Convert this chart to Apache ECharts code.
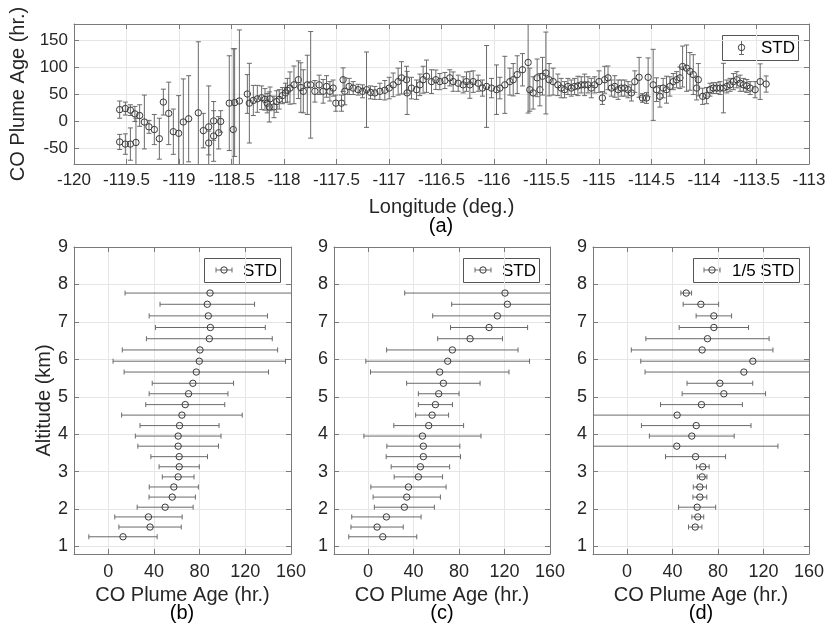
<!DOCTYPE html>
<html><head><meta charset="utf-8">
<script src="https://cdn.jsdelivr.net/npm/echarts@6/dist/echarts.min.js"></script>
<style>html,body{margin:0;padding:0;background:#fff}#c{width:830px;height:631px}</style>
</head><body><div id="c"></div>
<script>
// ---------- Panel (a): longitude vs CO plume age ----------
const lonA = [-119.565,-119.565,-119.511,-119.511,-119.463,-119.463,-119.420,-119.410,-119.375,-119.330,
-119.286,-119.235,-119.187,-119.149,-119.098,-119.054,-119.003,-118.959,-118.908,-118.816,
-118.768,-118.717,-118.717,-118.670,-118.670,-118.622,-118.603,-118.521,-118.483,-118.470,
-118.425,-118.349,-118.330,-118.292,-118.254,-118.213,-118.181,-118.160,-118.140,-118.133,
-118.095,-118.070,-118.045,-118.015,-117.985,-117.968,-117.943,-117.905,-117.863,-117.840,
-117.816,-117.778,-117.746,
-117.706,-117.665,-117.627,-117.595,-117.563,-117.532,-117.506,-117.452,-117.437,-117.421,
-117.379,-117.341,-117.294,-117.252,-117.214,-117.176,-117.135,-117.087,-117.040,-116.998,
-116.960,-116.913,-116.881,-116.833,-116.827,-116.786,-116.738,-116.706,-116.675,-116.643,
-116.595,-116.554,-116.516,-116.468,-116.421,-116.389,-116.341,-116.294,-116.262,-116.230,
-116.198,-116.151,-116.110,-116.071,-116.024,-115.976,-115.944,-115.897,-115.849,-115.817,
-115.779,-115.729,-115.675,-115.659,-115.627,-115.589,-115.563,-115.538,-115.506,-115.475,
-115.437,
-115.392,-115.360,-115.328,-115.296,-115.264,-115.232,-115.201,-115.169,-115.137,-115.105,
-115.073,-115.041,-115.000,-114.968,-114.946,-114.914,-114.882,-114.850,-114.818,-114.787,
-114.755,-114.723,-114.691,-114.659,-114.618,-114.586,-114.548,-114.532,-114.484,-114.452,
-114.420,-114.389,-114.357,-114.325,-114.293,-114.261,-114.229,-114.204,-114.166,-114.134,
-114.102,-114.070,-114.054,-114.013,-113.975,-113.943,-113.911,-113.879,-113.847,-113.815,
-113.783,-113.752,-113.720,-113.688,-113.656,-113.624,-113.592,-113.561,-113.513,-113.465,
-113.408];
const ageA = [21,-39,23,-43,20,-43,13,-40,10,-2,
-11,-16,-33,35,14,-20,-23,-2,4,15,
-18,-11,-41,0,-28,-22,-1,33,-16,34,
37,50,33,38,41,43,40,33,26,41,
26,36,40,47,52,57,61,67,76.5,62,
55,67,67,
55,67,55,64,55,61,33,33,76.5,55,
64,61,58,55,58,53,52,55,57,61,
67,73,80,76.5,52,61,58,67,76.5,83,
73,76.5,73,75,80,73,70,67,73,67,
73,70,61,64,61,58,61,67,73,76.5,
86,95,108.6,58,52,80,58,83,89,76.5,
73,
67,61,58,64,61,64,65,67,67,67,
61,67,73,42.6,76.5,80,61,64,58,61,
61,58,52,73,81,42.6,42.6,81,67,58,
45.7,61,58,64,73,76.5,80,101,98,92,
86,61,76.5,45.7,47,58,61,61,61,61,
64,67,73,76.5,70,67,65,61,58,73,
68.5];
const errA = [16,14,12,19,10,30,14,45,20,50,
12,28,38,24,58,42,70,80,80,132,
32,76,22,36,47,30,20,88,150,100,
132,36,74,28,25,22,20,18,28,22,
20,20,18,15,18,22,30,35,35,46,
40,55,99,
20,18,22,20,18,15,15,15,22,25,
15,12,10,12,70,12,12,15,18,20,
22,25,30,25,40,20,18,20,25,30,
22,18,15,15,15,18,15,15,18,25,
20,15,15,76,18,46,20,53,25,30,
35,30,94,40,30,35,30,35,76,30,
25,
20,18,15,15,15,15,18,15,20,15,
18,15,20,12,25,22,15,20,18,15,
15,15,15,20,37,8,10,36,66,22,
20,18,25,18,15,15,20,38,43,35,
37,22,30,15,15,12,10,10,12,46,
12,12,15,15,15,12,12,12,15,33,
15];
const lonTicks = [-120,-119.5,-119,-118.5,-118,-117.5,-117,-116.5,-116,-115.5,-115,-114.5,-114,-113.5,-113];
const ageTicksA = [-50,0,50,100,150];

// ---------- Panels (b),(c),(d): altitude profiles ----------
const altBC = [1.26,1.52,1.79,2.05,2.32,2.59,2.86,3.13,3.40,3.68,3.95,4.23,4.51,4.79,5.08,5.36,5.66,5.95,6.25,6.55,6.85,7.16,7.47,7.77];
const ageB = [12.9,36.6,35.2,49.8,56.0,57.4,61.2,62.1,62.1,61.2,61.2,62.4,64.5,67.4,70.3,74.1,77.1,79.7,80.3,88.5,89.4,87.6,86.7,89.1];
const errB = [29.9,27.3,29.5,24.5,20.3,21.5,13.9,17.6,24.8,35.3,37.5,34.6,52.8,34.6,34.5,35.6,63.2,75.5,68.0,55.1,48.1,51.8,41.4,74.4];
const ageC = [12.9,7.9,16.1,31.9,34.0,35.5,44.2,46.0,48.6,48.6,47.8,53.3,56.3,59.2,62.1,66.2,63.0,70.0,74.1,89.7,106.4,113.7,122.5,120.4];
const errC = [29.9,23.0,30.5,26.4,29.6,33.1,21.3,25.7,32.7,32.1,51.5,30.7,14.5,15.0,17.9,32.3,60.9,72.0,57.8,28.5,33.9,56.9,49.0,88.2];
const altD = [1.52,1.79,2.05,2.32,2.59,2.86,3.13,3.40,3.68,3.95,4.23,4.51,4.79,5.08,5.36,5.66,5.95,6.25,6.55,6.85,7.16,7.47,7.77];
const ageD = [59.9,62.2,61.6,64.0,64.0,66.0,66.6,60.2,43.7,56.9,60.8,44.0,65.4,85.1,81.6,102.7,110.6,66.0,70.7,76.3,76.3,64.9,52.0];
const errD = [5.9,5.2,16.3,6.1,5.8,4.2,5.6,26.4,89.0,37.3,48.2,160,36.0,36.7,28.9,86.9,98.6,62.3,54.2,30.5,15.6,15.6,4.7];
const altTicks = [1,2,3,4,5,6,7,8,9];
const ageTicksBCD = [0,40,80,120,160];

// ---------- styling ----------
const FONT = '"Liberation Sans", Arial, Helvetica, sans-serif';
const AX = '#7a7a7a', TXT = '#262626', GRID = '#e6e6e6';
const BAR = '#6a6a6a', CIRC = '#3a3a3a';

function zip3(a,b,c){ return a.map((v,i)=>[v,b[i],c[i]]); }

function vBar(params, api){
  const x=api.value(0), y=api.value(1), e=api.value(2);
  const c=api.coord([x,y]), t=api.coord([x,y+e]), b=api.coord([x,y-e]);
  const st={stroke:BAR, lineWidth:1, fill:null};
  return {type:'group', children:[
    {type:'line', shape:{x1:c[0],y1:t[1],x2:c[0],y2:b[1]}, style:st},
    {type:'line', shape:{x1:c[0]-2.5,y1:t[1],x2:c[0]+2.5,y2:t[1]}, style:st},
    {type:'line', shape:{x1:c[0]-2.5,y1:b[1],x2:c[0]+2.5,y2:b[1]}, style:st},
    {type:'circle', shape:{cx:c[0],cy:c[1],r:3.2}, style:{stroke:CIRC, fill:null, lineWidth:1}}
  ]};
}
function hBar(params, api){
  const x=api.value(0), y=api.value(1), e=api.value(2);
  const c=api.coord([x,y]), l=api.coord([x-e,y]), r=api.coord([x+e,y]);
  const st={stroke:BAR, lineWidth:1, fill:null};
  return {type:'group', children:[
    {type:'line', shape:{x1:l[0],y1:c[1],x2:r[0],y2:c[1]}, style:st},
    {type:'line', shape:{x1:l[0],y1:c[1]-2.5,x2:l[0],y2:c[1]+2.5}, style:st},
    {type:'line', shape:{x1:r[0],y1:c[1]-2.5,x2:r[0],y2:c[1]+2.5}, style:st},
    {type:'circle', shape:{cx:c[0],cy:c[1],r:3.2}, style:{stroke:CIRC, fill:null, lineWidth:1}}
  ]};
}

const grids = [
  {left:74, top:24, width:735, height:140},
  {left:74, top:247, width:217, height:307},
  {left:334, top:247, width:216, height:307},
  {left:593, top:247, width:216, height:307}
];

function mainAxis(extra){
  return Object.assign({
    type:'value',
    axisLine:{show:true, onZero:false, lineStyle:{color:AX, width:1}},
    axisTick:{show:true, inside:true, length:5, lineStyle:{color:AX}},
    splitLine:{show:true, lineStyle:{color:GRID, width:1}},
    nameTextStyle:{fontFamily:FONT, fontSize:20, color:TXT}
  }, extra);
}
function sideAxis(extra){
  return Object.assign({
    type:'value',
    axisLine:{show:true, onZero:false, lineStyle:{color:AX, width:1}},
    axisTick:{show:true, inside:true, length:5, lineStyle:{color:AX}},
    axisLabel:{show:false},
    splitLine:{show:false}
  }, extra);
}

const xAxes = [], yAxes = [];
// (a)
xAxes.push(mainAxis({gridIndex:0, position:'bottom', min:-120, max:-113, interval:0.5,
  axisLabel:{fontFamily:FONT, fontSize:17, color:TXT, margin:8, showMinLabel:true, showMaxLabel:true},
  name:'Longitude (deg.)', nameLocation:'middle', nameGap:33}));
xAxes.push(sideAxis({gridIndex:0, position:'top', min:-120, max:-113, interval:0.5}));
yAxes.push(mainAxis({gridIndex:0, position:'left', min:-80, max:180,
  axisTick:{show:true, inside:true, length:5, lineStyle:{color:AX}, customValues:ageTicksA},
  axisLabel:{fontFamily:FONT, fontSize:17, color:TXT, margin:6, customValues:ageTicksA},
  name:'CO Plume Age (hr.)', nameLocation:'middle', nameGap:43}));
yAxes.push(sideAxis({gridIndex:0, position:'right', min:-80, max:180,
  axisTick:{show:true, inside:true, length:5, lineStyle:{color:AX}, customValues:ageTicksA}}));
// (b),(c),(d)
for (let g=1; g<=3; g++){
  xAxes.push(mainAxis({gridIndex:g, position:'bottom', min:-30, max:160,
    axisTick:{show:true, inside:true, length:5, lineStyle:{color:AX}, customValues:ageTicksBCD},
    axisLabel:{fontFamily:FONT, fontSize:18, color:TXT, margin:9, customValues:ageTicksBCD},
    name:'CO Plume Age (hr.)', nameLocation:'middle', nameGap:31}));
  xAxes.push(sideAxis({gridIndex:g, position:'top', min:-30, max:160,
    axisTick:{show:true, inside:true, length:5, lineStyle:{color:AX}, customValues:ageTicksBCD}}));
  yAxes.push(mainAxis(Object.assign({gridIndex:g, position:'left', min:0.8, max:9,
    axisTick:{show:true, inside:true, length:5, lineStyle:{color:AX}, customValues:altTicks},
    axisLabel:{fontFamily:FONT, fontSize:18, color:TXT, margin:6, customValues:altTicks}},
    g===1 ? {name:'Altitude (km)', nameLocation:'middle', nameGap:18} : {})));
  yAxes.push(sideAxis({gridIndex:g, position:'right', min:0.8, max:9,
    axisTick:{show:true, inside:true, length:5, lineStyle:{color:AX}, customValues:altTicks}}));
}

const series = [
  {type:'custom', name:'STD', coordinateSystem:'cartesian2d', xAxisIndex:0, yAxisIndex:0, clip:true,
   renderItem:vBar, encode:{x:0, y:1}, data:zip3(lonA, ageA, errA), silent:true},
  {type:'custom', name:'STD (b)', coordinateSystem:'cartesian2d', xAxisIndex:2, yAxisIndex:2, clip:true,
   renderItem:hBar, encode:{x:0, y:1}, data:zip3(ageB, altBC, errB), silent:true},
  {type:'custom', name:'STD (c)', coordinateSystem:'cartesian2d', xAxisIndex:4, yAxisIndex:4, clip:true,
   renderItem:hBar, encode:{x:0, y:1}, data:zip3(ageC, altBC, errC), silent:true},
  {type:'custom', name:'1/5 STD (d)', coordinateSystem:'cartesian2d', xAxisIndex:6, yAxisIndex:6, clip:true,
   renderItem:hBar, encode:{x:0, y:1}, data:zip3(ageD, altD, errD), silent:true}
];

// legends (drawn as graphic elements)
function legendBox(x, y, w, h, iconX, textX, label, vertical){
  const cy = y + h/2;
  const st = {stroke:BAR, lineWidth:1, fill:null};
  const icon = vertical ? [
    {type:'line', shape:{x1:iconX, y1:cy-7, x2:iconX, y2:cy+7}, style:st},
    {type:'line', shape:{x1:iconX-2.5, y1:cy-7, x2:iconX+2.5, y2:cy-7}, style:st},
    {type:'line', shape:{x1:iconX-2.5, y1:cy+7, x2:iconX+2.5, y2:cy+7}, style:st}
  ] : [
    {type:'line', shape:{x1:iconX-8, y1:cy, x2:iconX+8, y2:cy}, style:st},
    {type:'line', shape:{x1:iconX-8, y1:cy-2.5, x2:iconX-8, y2:cy+2.5}, style:st},
    {type:'line', shape:{x1:iconX+8, y1:cy-2.5, x2:iconX+8, y2:cy+2.5}, style:st}
  ];
  return {type:'group', z:100, children:[
    {type:'rect', shape:{x:x+0.5, y:y+0.5, width:w, height:h}, style:{fill:'#fff', stroke:'#555', lineWidth:1}},
    ...icon,
    {type:'circle', shape:{cx:iconX, cy:cy, r:3.2}, style:{stroke:CIRC, fill:null, lineWidth:1}},
    {type:'text', style:{text:label, x:textX, y:cy+1, verticalAlign:'middle', font:'17px ' + FONT, fill:'#000'}}
  ]};
}
function panelLabel(text, x, y){
  return {type:'text', z:100, style:{text:text, x:x, y:y, align:'center', verticalAlign:'middle', font:'20px ' + FONT, fill:'#000'}};
}

const graphic = [
  legendBox(722, 35, 76, 25, 741.5, 761, 'STD', true),
  legendBox(204, 258, 76, 24, 224, 243, 'STD', false),
  legendBox(463, 258, 76, 24, 483, 502, 'STD', false),
  legendBox(693, 258, 106, 24, 712, 732, '1/5 STD', false),
  panelLabel('(a)', 441, 226),
  panelLabel('(b)', 182, 613),
  panelLabel('(c)', 442, 613),
  panelLabel('(d)', 701, 613)
];

const chart = echarts.init(document.getElementById('c'), null, {renderer:'canvas'});
chart.setOption({
  animation:false,
  backgroundColor:'#fff',
  grid:grids,
  xAxis:xAxes,
  yAxis:yAxes,
  series:series,
  graphic:graphic
});
</script></body></html>
